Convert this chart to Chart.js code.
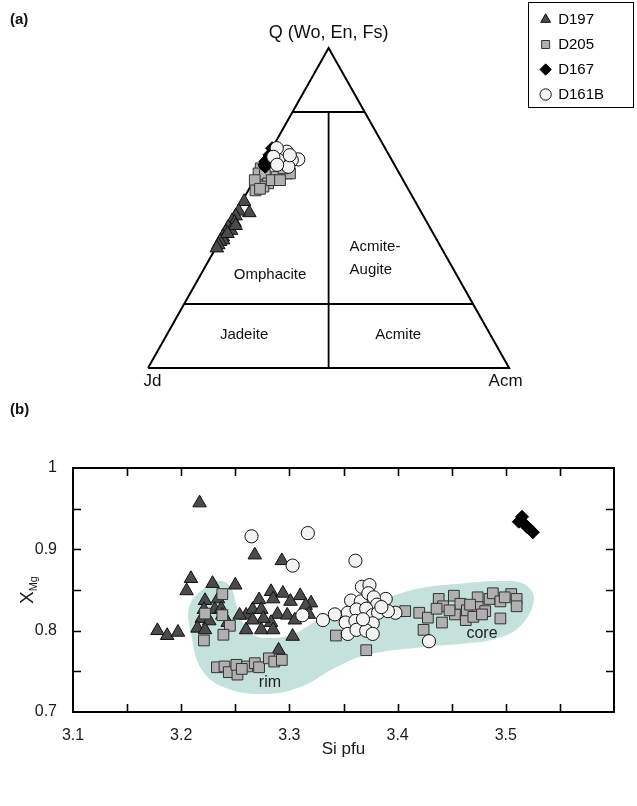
<!DOCTYPE html>
<html><head><meta charset="utf-8">
<script src="https://cdn.jsdelivr.net/npm/chart.js@4.4.1/dist/chart.umd.min.js"></script>
<style>
html,body{margin:0;padding:0;background:#fff;width:637px;height:806px;overflow:hidden}
#a{position:absolute;left:0;top:0}
#b{position:absolute;left:0;top:395px}
</style></head><body>
<canvas id="a" width="637" height="395"></canvas>
<canvas id="b" width="637" height="411"></canvas>
<script>
// ---------- DATA ----------
const seriesNames = ['D197', 'D205', 'D167', 'D161B'];

// Ternary (a): [Q %, Acm %]  (Jd = 100 - Q - Acm)
const ternD197 = [[52,0.6],[48.5,3.8],[49,0.6],[47.5,0.5],[46,0.3],[45.5,1.2],[44,0.2],[43,1.5],[42.5,0.3],[41,0.2],[40,0.8],[39.5,0.2],[38.5,0.2],[37.5,0.3],[44.5,2],[42,1]];
const ternD205 = [[62.4,0],[60.8,0.2],[60.3,2.2],[57.2,2.4],[57.7,4.4],[59.8,5.7],[60.8,8],[60.8,8.9],[56.7,3.6],[58.7,4.9],[62.4,6.3],[58.7,7.2],[58.7,0.2],[55.5,2],[56,3]];
const ternD167 = [[68.7,0],[66.6,0.3],[64.5,0.2],[65.5,0.5],[67.1,0.8],[62.9,1],[65,1.8],[63.5,0.5]];
const ternD161B = [[67.1,3.1],[67.6,4.6],[65.2,9],[64,5.5],[65,7.3],[65,3.6],[62.9,7.4],[68.7,1.3],[66,1.7],[66.5,6],[63.5,4]];

// Ternary field boundaries: [Q %, Acm %]
const ternFrame = [[0,0],[0,100],[100,0],[0,0]];
const ternLineQ80 = [[80,0],[80,20]];
const ternLineQ20 = [[20,0],[20,80]];
const ternLineJdAcm = [[80,10],[0,50]];

// Scatter (b): Si pfu vs XMg
const d197Si = [3.217,3.268,3.293,3.209,3.205,3.229,3.250,3.178,3.187,3.197,3.222,3.234,3.221,3.231,3.237,3.219,3.226,3.215,3.222,3.238,3.243,3.260,3.260,3.266,3.272,3.274,3.283,3.285,3.294,3.301,3.310,3.320,3.315,3.289,3.283,3.298,3.305,3.274,3.285,3.303,3.290,3.276,3.318,3.266,3.254];
const d197XMg = [0.957,0.893,0.886,0.864,0.849,0.858,0.856,0.800,0.794,0.798,0.837,0.839,0.826,0.826,0.827,0.815,0.812,0.803,0.801,0.819,0.810,0.801,0.819,0.826,0.838,0.826,0.848,0.839,0.846,0.836,0.843,0.834,0.831,0.820,0.810,0.819,0.813,0.801,0.801,0.793,0.776,0.815,0.820,0.813,0.819];

const d205Si = [3.238,3.222,3.238,3.245,3.239,3.221, 3.233,3.240,3.244,3.252,3.251,3.261,3.268,3.272,3.281,3.286,3.293,3.256, 3.343,3.371,3.407, 3.420,3.424,3.428,3.438,3.441,3.442,3.452,3.453,3.458,3.463,3.464,3.474,3.474,3.470,3.481,3.485,3.488,3.495,3.505,3.510,3.510,3.495,3.448,3.436,3.467,3.478,3.499];
const d205XMg = [0.845,0.821,0.819,0.806,0.795,0.788, 0.755,0.756,0.749,0.746,0.758,0.756,0.760,0.755,0.766,0.762,0.764,0.753, 0.794,0.776,0.824, 0.822,0.801,0.816,0.839,0.810,0.830,0.843,0.820,0.833,0.813,0.825,0.841,0.829,0.817,0.824,0.839,0.846,0.836,0.845,0.839,0.830,0.815,0.825,0.827,0.832,0.820,0.841];

const d167Si = [3.515,3.512,3.518,3.522,3.525,3.520];
const d167XMg = [0.940,0.934,0.930,0.925,0.921,0.927];

const d161bSi = [3.265,3.317,3.303,3.361,3.312,3.331,3.342,3.429,3.398,3.389, 3.367,3.374,3.357,3.366,3.373,3.378,3.381,3.354,3.362,3.371,3.377,3.382,3.391,3.352,3.361,3.369,3.377,3.354,3.362,3.371,3.377,3.368,3.385];
const d161bXMg = [0.916,0.920,0.880,0.886,0.819,0.813,0.820,0.787,0.822,0.839, 0.854,0.856,0.837,0.836,0.846,0.841,0.832,0.822,0.826,0.827,0.819,0.822,0.824,0.810,0.812,0.809,0.809,0.796,0.801,0.800,0.796,0.814,0.829];

// shaded rim-core field outline (Si pfu, XMg)
const fieldSi = [3.229,3.240,3.247,3.251,3.256,3.268,3.283,3.304,3.325,3.350,3.371,3.396,3.424,3.460,3.495,3.517,3.526,3.513,3.488,3.460,3.424,3.371,3.339,3.311,3.276,3.240,3.219,3.210,3.208,3.229];
const fieldXMg = [0.861,0.860,0.850,0.832,0.812,0.794,0.791,0.796,0.812,0.826,0.832,0.843,0.853,0.858,0.861,0.857,0.839,0.805,0.789,0.784,0.780,0.770,0.752,0.731,0.722,0.730,0.752,0.791,0.832,0.861];

const xTickLabels = ['3.1','3.2','3.3','3.4','3.5'];
const yTickLabels = ['0.7','0.8','0.9','1'];

// ---------- STYLE ----------
const FONT = "'Liberation Sans', Arial, Helvetica, sans-serif";
Chart.defaults.font.family = FONT;
Chart.defaults.color = '#1a1a1a';
const styles = [
  {pointStyle:'triangle', backgroundColor:'#4b4b4b', borderColor:'#111', radius:7.8},
  {pointStyle:'rect', backgroundColor:'#b0b0b0', borderColor:'#333', radius:7.6},
  {pointStyle:'rectRot', backgroundColor:'#000', borderColor:'#000', radius:6.5},
  {pointStyle:'circle', backgroundColor:'#f3f3f3', borderColor:'#111', radius:6.6}
];
const drawOrder = [4,3,2,1];

// ---------- TERNARY (a) ----------
const toUV = arr => arr.map(([q, acm]) => ({x: (acm + q / 2) / 100, y: q / 100}));
const ternSeries = [ternD197, ternD205, ternD167, ternD161B];
const ternLabels = [
  {text:'Q (Wo, En, Fs)', u:0.5, v:1.047, size:18, align:'center'},
  {text:'Jd', u:0.012, v:-0.042, size:17, align:'center'},
  {text:'Acm', u:0.99, v:-0.042, size:17, align:'center'},
  {text:'Omphacite', u:0.338, v:0.29, size:15, align:'center'},
  {text:'Acmite-', u:0.558, v:0.378, size:15, align:'left'},
  {text:'Augite', u:0.558, v:0.307, size:15, align:'left'},
  {text:'Jadeite', u:0.266, v:0.103, size:15, align:'center'},
  {text:'Acmite', u:0.693, v:0.103, size:15, align:'center'}
];
const lineDs = (data, w) => ({label:'_line', data: toUV(data), showLine:true, borderColor:'#000', borderWidth:w, pointRadius:0, borderJoinStyle:'miter', order:6});

const ternPlugin = {
  id:'ternText',
  afterDraw(chart) {
    const {ctx, scales:{x, y}} = chart;
    ctx.save();
    ctx.fillStyle = '#111';
    ctx.textBaseline = 'middle';
    ternLabels.forEach(l => {
      ctx.font = l.size + 'px ' + FONT;
      ctx.textAlign = l.align;
      ctx.fillText(l.text, x.getPixelForValue(l.u), y.getPixelForValue(l.v));
    });
    ctx.font = 'bold 15px ' + FONT;
    ctx.textAlign = 'left';
    ctx.fillText('(a)', 10, 20);
    const L = chart.legend;
    ctx.strokeStyle = '#000';
    ctx.lineWidth = 1;
    ctx.strokeRect(Math.round(L.left) - 2.5, Math.round(L.top) + 0.5, 105, 105);
    ctx.restore();
  }
};

new Chart(document.getElementById('a'), {
  type:'scatter',
  data:{datasets:[
    ...ternSeries.map((s, i) => ({label:seriesNames[i], data:toUV(s), pointStyle:styles[i].pointStyle, backgroundColor:styles[i].backgroundColor, borderColor:styles[i].borderColor, borderWidth:1, pointRadius:styles[i].radius, order:drawOrder[i]})),
    lineDs(ternFrame, 2), lineDs(ternLineQ80, 1.8), lineDs(ternLineQ20, 1.8), lineDs(ternLineJdAcm, 1.8)
  ]},
  options:{
    animation:false, responsive:false, events:[],
    layout:{autoPadding:false, padding:{top:2, right:23, left:0, bottom:0}},
    scales:{
      x:{type:'linear', display:false, min:-0.40997, max:1.0595},
      y:{type:'linear', display:false, min:-0.084375, max:1.14375}
    },
    plugins:{
      legend:{position:'right', align:'start', labels:{usePointStyle:true, boxWidth:10, boxHeight:8, padding:10, color:'#000', font:{size:15, family:FONT},
        filter: it => it.text !== '_line', sort: (a, b) => a.datasetIndex - b.datasetIndex}},
      tooltip:{enabled:false}
    }
  },
  plugins:[ternPlugin]
});

// ---------- SCATTER (b) ----------
const zip = (xs, ys) => xs.map((v, i) => ({x:v, y:ys[i]}));
const scSeries = [zip(d197Si, d197XMg), zip(d205Si, d205XMg), zip(d167Si, d167XMg), zip(d161bSi, d161bXMg)];
const fieldLabels = [{text:'core', x:3.478, y:0.797}, {text:'rim', x:3.282, y:0.736}];
const near = (v, labels) => labels.find(t => Math.abs(parseFloat(t) - v) < 1e-6);

const framePlugin = {
  id:'frame',
  afterDatasetsDraw(chart) {
    const {ctx, scales:{x, y}} = chart;
    ctx.save();
    ctx.fillStyle = '#222';
    ctx.font = '16px ' + FONT;
    ctx.textAlign = 'center'; ctx.textBaseline = 'middle';
    fieldLabels.forEach(l => ctx.fillText(l.text, x.getPixelForValue(l.x), y.getPixelForValue(l.y)));
    ctx.restore();
  },
  afterDraw(chart) {
    const {ctx, chartArea:a, scales:{x, y}} = chart;
    ctx.save();
    ctx.strokeStyle = '#000';
    ctx.lineWidth = 1.6;
    const TL = 8;
    ctx.beginPath();
    x.ticks.forEach(t => {
      if (t.value <= x.min + 1e-9 || t.value >= x.max - 1e-9) return;
      const px = Math.round(x.getPixelForValue(t.value)) + 0.5;
      ctx.moveTo(px, a.top); ctx.lineTo(px, a.top + TL);
      ctx.moveTo(px, a.bottom); ctx.lineTo(px, a.bottom - TL);
    });
    y.ticks.forEach(t => {
      if (t.value <= y.min + 1e-9 || t.value >= y.max - 1e-9) return;
      const py = Math.round(y.getPixelForValue(t.value)) + 0.5;
      ctx.moveTo(a.left, py); ctx.lineTo(a.left + TL, py);
      ctx.moveTo(a.right, py); ctx.lineTo(a.right - TL, py);
    });
    ctx.stroke();
    ctx.lineWidth = 2;
    ctx.strokeRect(a.left, a.top, a.right - a.left, a.bottom - a.top);
    // y title X_Mg
    ctx.fillStyle = '#1a1a1a';
    ctx.translate(28, (a.top + a.bottom) / 2);
    ctx.rotate(-Math.PI / 2);
    ctx.textBaseline = 'middle'; ctx.textAlign = 'left';
    ctx.font = '19px ' + FONT;
    const wX = ctx.measureText('X').width;
    ctx.font = '11px ' + FONT;
    const wM = ctx.measureText('Mg').width;
    const x0 = -(wX + wM) / 2;
    ctx.font = '19px ' + FONT;
    ctx.fillText('X', x0, 0);
    ctx.font = '11px ' + FONT;
    ctx.fillText('Mg', x0 + wX, 6);
    ctx.restore();
    ctx.save();
    ctx.fillStyle = '#111';
    ctx.font = 'bold 15px ' + FONT;
    ctx.textBaseline = 'middle';
    ctx.fillText('(b)', 10, 15);
    ctx.restore();
  }
};

new Chart(document.getElementById('b'), {
  type:'scatter',
  data:{datasets:[
    {label:'field', data:zip(fieldSi, fieldXMg), showLine:true, fill:'shape', backgroundColor:'#c4e1db', borderWidth:0, borderColor:'rgba(0,0,0,0)', pointRadius:0, tension:0.4, order:10},
    ...scSeries.map((s, i) => ({label:seriesNames[i], data:s, pointStyle:styles[i].pointStyle, backgroundColor:styles[i].backgroundColor, borderColor:styles[i].borderColor, borderWidth:1, pointRadius:styles[i].radius, order:drawOrder[i]}))
  ]},
  options:{
    animation:false, responsive:false, events:[],
    layout:{autoPadding:false, padding:{top:73, right:23, left:0, bottom:0}},
    scales:{
      x:{type:'linear', min:3.1, max:3.6, afterFit: s => { s.height = 94; },
        grid:{display:false}, border:{display:false},
        ticks:{stepSize:0.05, autoSkip:false, maxRotation:0, padding:6, color:'#1a1a1a', font:{size:16},
          callback: v => near(v, xTickLabels) || ''},
        title:{display:true, text:'Si pfu', color:'#1a1a1a', font:{size:17}, padding:{top:0, bottom:46}}},
      y:{type:'linear', min:0.7, max:1, afterFit: s => { s.width = 73; },
        grid:{display:false}, border:{display:false},
        ticks:{stepSize:0.05, autoSkip:false, padding:8, color:'#1a1a1a', font:{size:16},
          callback: v => near(v, yTickLabels) || ''}}
    },
    plugins:{legend:{display:false}, tooltip:{enabled:false}}
  },
  plugins:[framePlugin]
});
</script></body></html>
